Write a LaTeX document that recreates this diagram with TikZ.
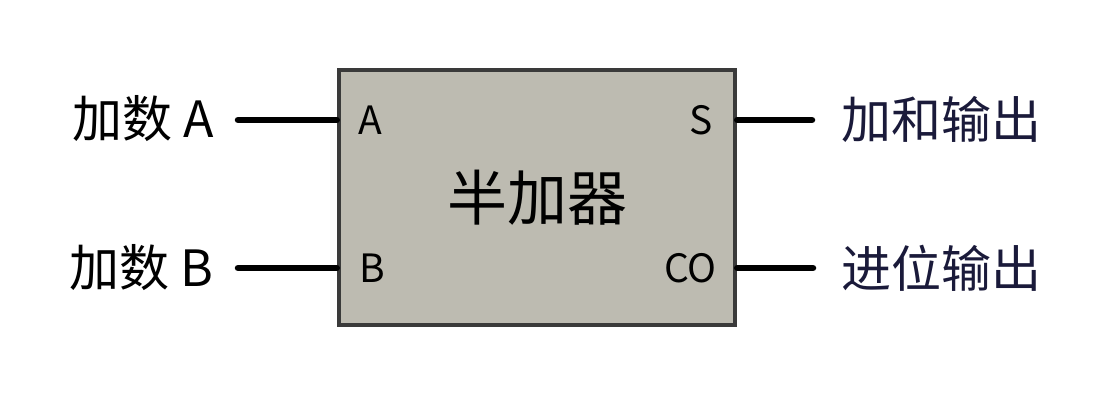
\documentclass[tikz,border=0pt]{standalone}
\usepackage{fontspec}
\setmainfont{Noto Sans CJK SC}
\usetikzlibrary{positioning}
\definecolor{boxfill}{RGB}{189,187,177}
\definecolor{boxline}{RGB}{58,58,58}
\definecolor{outtext}{RGB}{26,26,58}
\tikzset{
  adder/.style={draw=boxline,fill=boxfill,line width=4.5pt,minimum width=396pt,minimum height=255pt,inner sep=0pt},
  pin/.style={line width=6.5pt,line cap=round},
  pinlabel/.style={inner sep=0pt,font=\fontsize{39}{46}\selectfont},
  iolabel/.style={inner sep=0pt,font=\fontsize{50}{60}\selectfont}
}
\begin{document}
\begin{tikzpicture}[x=1pt,y=-1pt]
		\useasboundingbox[fill=white] (0,0) rectangle (1100,400);
		\node[adder] (ha) at (537,197.5) {};
		\node[font=\fontsize{60}{72}\selectfont] (name) at (ha.center) {半加器};
		\coordinate (ina) at (ha.west |- 0,120);
		\coordinate (inb) at (ha.west |- 0,268);
		\coordinate (outs) at (ha.east |- 0,120);
		\coordinate (outco) at (ha.east |- 0,268);
		\node[pinlabel,anchor=west] (pa) at (358,120) {A};
		\node[pinlabel,anchor=west] (pb) at (359,268) {B};
		\node[pinlabel,anchor=east] (ps) at (713,120) {S};
		\node[pinlabel,anchor=east] (pco) at (717,268) {CO};
		\node[iolabel,anchor=east] (la) at (214,119) {加数 A};
		\node[iolabel,anchor=east] (lb) at (214,268) {加数 B};
		\node[iolabel,anchor=west,text=outtext] (ls) at (841,119) {加和输出};
		\node[iolabel,anchor=west,text=outtext] (lco) at (841,268) {进位输出};
		\coordinate (ea) at (238,120);
		\coordinate (eb) at (238,268);
		\coordinate (es) at (812,120);
		\coordinate (eco) at (813,268);
		\draw[pin] (ea) -- (ina);
		\draw[pin] (eb) -- (inb);
		\draw[pin] (outs) -- (es);
		\draw[pin] (outco) -- (eco);
	\end{tikzpicture}
\end{document}
